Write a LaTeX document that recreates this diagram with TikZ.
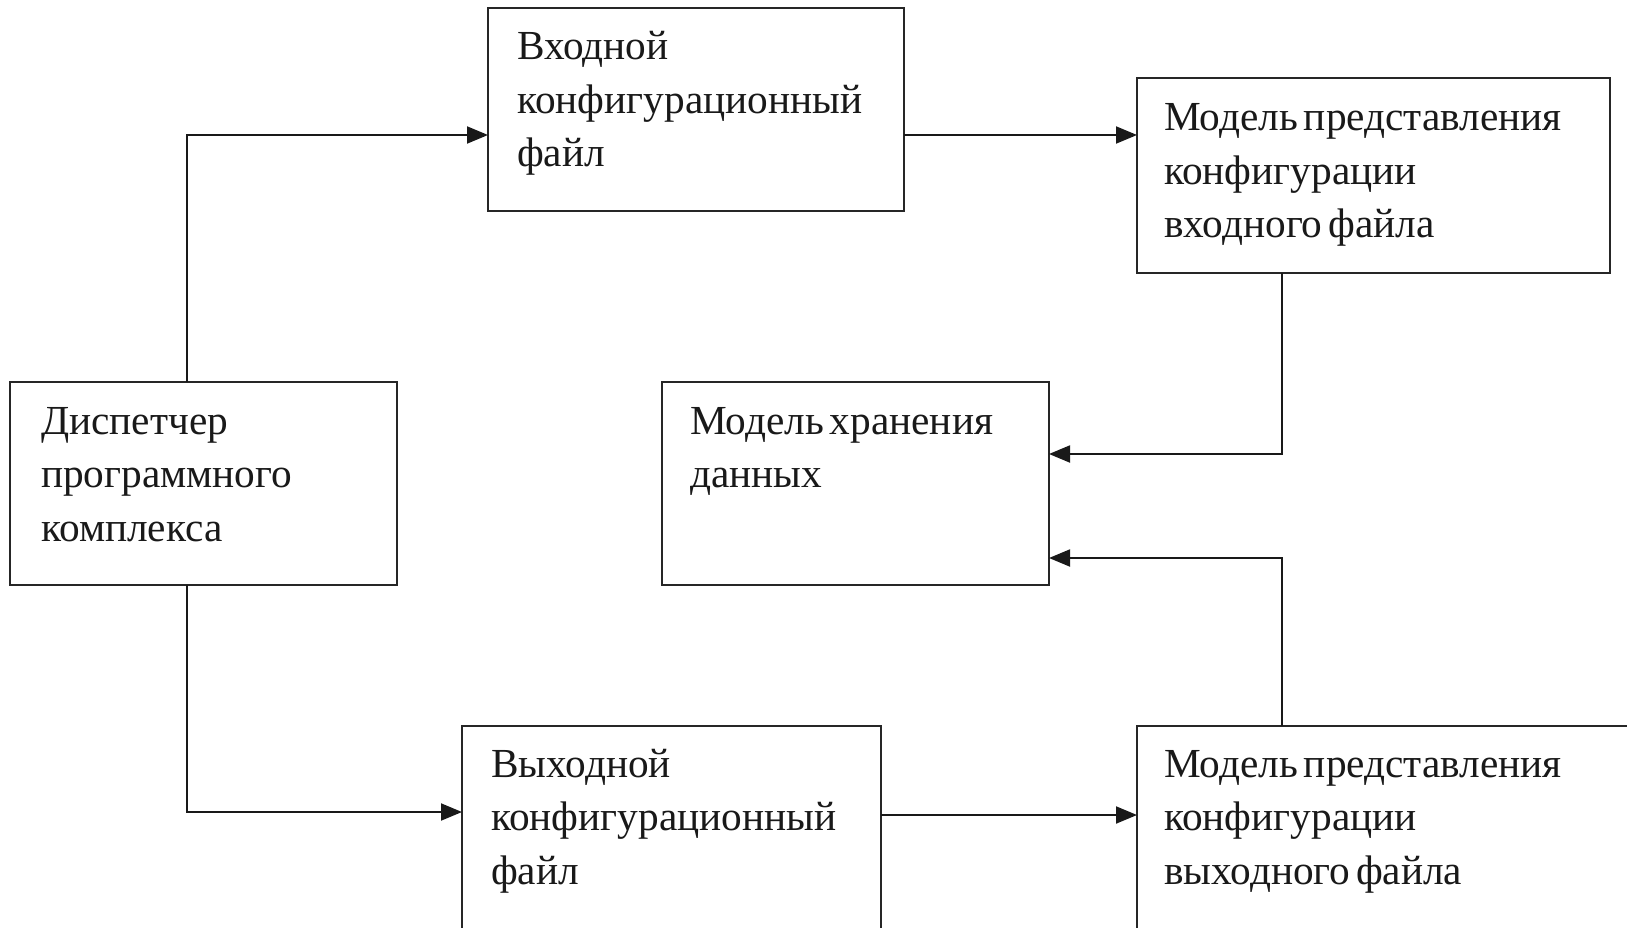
\documentclass[tikz,border=0pt]{standalone}
\usepackage{fontspec}
\setmainfont{Liberation Serif}
\usetikzlibrary{arrows.meta}
\newcommand\boxtextfont{\fontsize{41.3}{53.5}\selectfont}
\newcommand\ws{\hspace{0.14em}}
\begin{document}
\begin{tikzpicture}[x=1pt,y=-1pt,
  box/.style={draw=black!85, line width=1.7pt, rectangle, inner sep=0pt, outer sep=0pt, anchor=north west},
  txt/.style={anchor=base west, inner sep=0pt, text width=520pt, align=left, font=\boxtextfont, text=black!90},
  arr/.style={draw=black!90, line width=1.9pt, -{Triangle[length=21pt,width=17pt]}}]
\useasboundingbox (0,0) rectangle (1627,928);
\clip (0,0) rectangle (1627,928);
\fill[white] (0,0) rectangle (1627,928);
% boxes
\node[box, minimum width=416pt, minimum height=203pt] (inp) at (488,8) {};
\node[box, minimum width=473pt, minimum height=195pt] (mvx) at (1137,78) {};
\node[box, minimum width=387pt, minimum height=203pt] (disp) at (10,382) {};
\node[box, minimum width=387pt, minimum height=203pt] (store) at (662,382) {};
\node[box, minimum width=419pt, minimum height=230pt] (out) at (462,726) {};
\node[box, minimum width=510pt, minimum height=230pt] (mvy) at (1137,726) {};
% texts
\node[txt] (tinp) at (517,60) {Входной\\конфигурационный\\файл};
\node[txt] (tmvx) at (1164,131) {Модель\ws представления\\конфигурации\\входного\ws файла};
\node[txt] (tdisp) at (41,434) {Диспетчер\\программного\\комплекса};
\node[txt] (tstore) at (690,434) {Модель\ws хранения\\данных};
\node[txt] (tout) at (491,777) {Выходной\\конфигурационный\\файл};
\node[txt] (tmvy) at (1164,777) {Модель\ws представления\\конфигурации\\выходного\ws файла};
% joints
\coordinate (j1) at (187,135);
\coordinate (j2) at (1282,454);
\coordinate (j3) at (1282,558);
\coordinate (j4) at (187,812);
\coordinate (j5) at (1137,815);
% connectors
\draw[arr] (disp.north -| j1) -- (j1) -- (inp.west |- j1);
\draw[arr] (inp.east |- j1) -- (mvx.west |- j1);
\draw[arr] (mvx.south -| j2) -- (j2) -- (store.east |- j2);
\draw[arr] (mvy.north -| j3) -- (j3) -- (store.east |- j3);
\draw[arr] (disp.south -| j4) -- (j4) -- (out.west |- j4);
\draw[arr] (out.east |- j5) -- (j5);
\end{tikzpicture}
\end{document}
